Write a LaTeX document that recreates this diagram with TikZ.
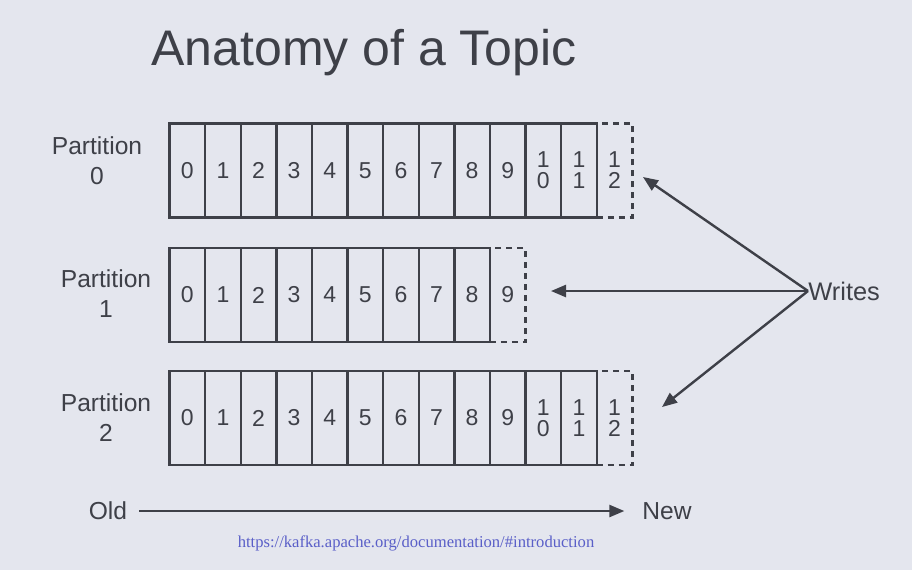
\documentclass[tikz,border=0pt]{standalone}
\usepackage{fontspec}
\setmainfont{Liberation Sans}
\newfontfamily\urlfont{Liberation Serif}
\usetikzlibrary{arrows.meta}
\definecolor{slidebg}{RGB}{228,230,238}
\definecolor{ink}{RGB}{62,64,72}
\definecolor{linkblue}{RGB}{90,95,200}
\newcommand\slotnum[1]{\ifnum#1>9 1\\\number\numexpr#1-10\relax\else#1\fi}
\tikzset{
  cell/.style={draw=ink, line width=1.2pt, minimum width=17.8pt, minimum height=47pt,
    inner sep=0pt, align=center, text=ink, font=\fontsize{11.5}{10.5}\selectfont},
  nextcell/.style={cell, dash pattern=on 3pt off 2.5pt},
  plabel/.style={align=center, text=ink, font=\fontsize{12.3}{15}\selectfont},
  flow/.style={draw=ink, line width=1.2pt, -{Triangle[length=7.5pt,width=6pt]}},
}
\begin{document}
\begin{tikzpicture}[x=0.5pt, y=-0.5pt]
\fill[slidebg] (0,0) rectangle (912,570);
\useasboundingbox (0,0) rectangle (912,570);
% Title
\node[anchor=base west, inner sep=0pt, text=ink, font=\fontsize{25}{30}\selectfont] (title) at (151,65) {Anatomy of a Topic};
% Partitions: row / centre y / last written offset
\foreach \r/\y/\n/\lx/\ly in {0/170.5/11/97/161, 1/295/8/106/294, 2/418/11/106/418} {
  \pgfmathtruncatemacro\nx{\n+1}
  \node[nextcell] (p\r-next) at ({187.3+35.6*\nx},\y) {\slotnum{\nx}};
  \foreach \i in {0,...,\n}
    \node[cell] (p\r-\i) at ({187.3+35.6*\i},\y) {\slotnum{\i}};
  \node[plabel] (part\r) at (\lx,\ly) {Partition\\\r};
}
% Writes go to the end of each partition
\node[plabel, inner sep=0pt, anchor=west, font=\fontsize{12.7}{15}\selectfont] (writes) at (808,291) {Writes};
\coordinate (in0) at (643,177);
\coordinate (in1) at (551,291);
\coordinate (in2) at (662,407);
\foreach \r in {0,1,2}
  \draw[flow] (writes.west) -- (in\r);
% Old -> New
\node[plabel] (old) at (108,511) {Old};
\node[plabel] (new) at (667,511) {New};
\draw[flow, shorten <=2.5pt, shorten >=5.5pt] (old) -- (new);
\node[text=linkblue, font=\urlfont\fontsize{8.3}{10}\selectfont] (source) at (416,543) {https://kafka.apache.org/documentation/\#introduction};
\end{tikzpicture}
\end{document}
